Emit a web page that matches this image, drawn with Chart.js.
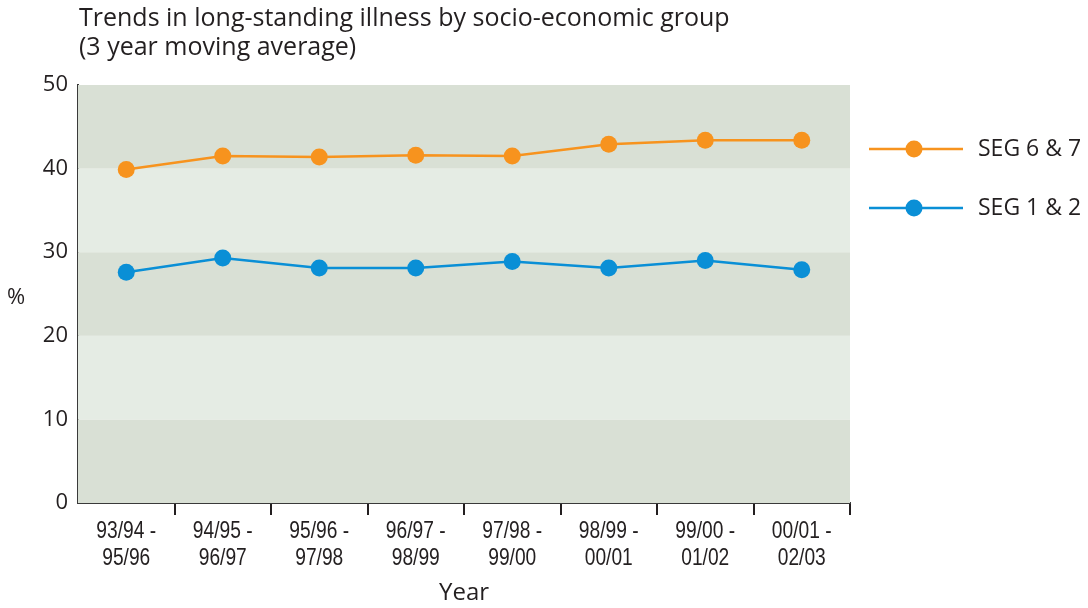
<!DOCTYPE html>
<html>
<head>
<meta charset="utf-8">
<script src="https://cdn.jsdelivr.net/npm/chart.js@4.4.1/dist/chart.umd.min.js"></script>
<style>
  html, body { margin: 0; padding: 0; background: #ffffff; }
  #wrap { position: relative; width: 1088px; height: 608px; overflow: hidden; }
  #chart { position: absolute; left: 0; top: 0; }
  .title { position: absolute; left: 79px; top: 2px; font-family: "Open Sans", "Noto Sans", sans-serif;
           font-size: 25px; line-height: 29px; color: #231f20; }
  .ylab { position: absolute; left: 7px; top: 280px; font-family: "Open Sans", "Noto Sans", sans-serif;
          font-size: 22px; color: #231f20; }
</style>
</head>
<body>
<div id="wrap">
  <canvas id="chart" width="1088" height="608"></canvas>
  <div class="title">Trends in long-standing illness by socio-economic group<br>(3 year moving average)</div>
  <div class="ylab">%</div>
</div>
<script>
// Three-year moving-average periods
const periods = [
  ['93/94 -', '95/96'], ['94/95 -', '96/97'], ['95/96 -', '97/98'], ['96/97 -', '98/99'],
  ['97/98 -', '99/00'], ['98/99 -', '00/01'], ['99/00 -', '01/02'], ['00/01 -', '02/03']
];
// Percentage reporting a long-standing illness
const seg67 = [39.9, 41.5, 41.4, 41.6, 41.5, 42.9, 43.4, 43.4];
const seg12 = [27.6, 29.3, 28.1, 28.1, 28.9, 28.1, 29.0, 27.9];
const seriesNames = ['SEG 6 & 7', 'SEG 1 & 2'];
const yTicks = [0, 10, 20, 30, 40, 50];

const ORANGE = '#f7931e';
const BLUE = '#0a8fd6';
const INK = '#231f20';
const BAND_DARK = '#d9e0d5';
const BAND_LIGHT = '#e5ece4';
const FONT = '"Open Sans", "Noto Sans", sans-serif';
const LABEL_FONT = '24px "Liberation Sans", Arial, sans-serif';

// Alternating horizontal bands between the y ticks
const bandPlugin = {
  id: 'bands',
  beforeDatasetsDraw(chart) {
    const { ctx, chartArea, scales } = chart;
    const y = scales.y;
    ctx.save();
    for (let i = 0; i < yTicks.length - 1; i++) {
      const top = y.getPixelForValue(yTicks[i + 1]);
      const bot = y.getPixelForValue(yTicks[i]);
      ctx.fillStyle = (i % 2 === 0) ? BAND_DARK : BAND_LIGHT;
      ctx.fillRect(chartArea.left, top, chartArea.right - chartArea.left, bot - top);
    }
    ctx.restore();
  }
};

// Condensed two-line period labels under each category
const periodLabels = {
  id: 'periodLabels',
  afterDraw(chart) {
    const { ctx, scales } = chart;
    const x = scales.x;
    const base = x.top + 28;
    ctx.save();
    ctx.fillStyle = INK;
    ctx.font = LABEL_FONT;
    ctx.textAlign = 'center';
    ctx.textBaseline = 'middle';
    periods.forEach((lines, i) => {
      const px = x.getPixelForValue(i);
      lines.forEach((t, j) => {
        ctx.save();
        ctx.translate(px, base + j * 27);
        ctx.scale(0.8, 1);
        ctx.fillText(t, 0, 0);
        ctx.restore();
      });
    });
    ctx.restore();
  }
};

// Legend on the right: line with a marker, then the series name
const sideLegend = {
  id: 'sideLegend',
  afterDraw(chart) {
    const { ctx } = chart;
    const rows = [
      { name: seriesNames[0], color: ORANGE, y: 149 },
      { name: seriesNames[1], color: BLUE, y: 208 }
    ];
    ctx.save();
    rows.forEach(r => {
      ctx.strokeStyle = r.color;
      ctx.lineWidth = 2.5;
      ctx.beginPath();
      ctx.moveTo(869, r.y);
      ctx.lineTo(963, r.y);
      ctx.stroke();
      ctx.fillStyle = r.color;
      ctx.beginPath();
      ctx.arc(914, r.y, 8.5, 0, Math.PI * 2);
      ctx.fill();
      ctx.fillStyle = INK;
      ctx.font = '23px ' + FONT;
      ctx.textBaseline = 'middle';
      ctx.textAlign = 'left';
      ctx.fillText(r.name, 978, r.y);
    });
    ctx.restore();
  }
};

new Chart(document.getElementById('chart'), {
  type: 'line',
  data: {
    labels: periods,
    datasets: [
      { label: seriesNames[0], data: seg67, borderColor: ORANGE, backgroundColor: ORANGE,
        borderWidth: 2.5, pointRadius: 8.5, pointHoverRadius: 8.5, pointBorderWidth: 0, tension: 0 },
      { label: seriesNames[1], data: seg12, borderColor: BLUE, backgroundColor: BLUE,
        borderWidth: 2.5, pointRadius: 8.5, pointHoverRadius: 8.5, pointBorderWidth: 0, tension: 0 }
    ]
  },
  options: {
    responsive: false,
    animation: false,
    layout: { padding: { top: 85, right: 238, bottom: 0, left: 0 } },
    plugins: { legend: { display: false }, tooltip: { enabled: false }, title: { display: false } },
    scales: {
      x: {
        offset: true,
        grid: {
          offset: true,
          drawOnChartArea: false,
          drawTicks: true,
          tickLength: 12,
          lineWidth: 2,
          color: (c) => (c.index === 0 ? 'rgba(0,0,0,0)' : INK)
        },
        border: { display: true, color: '#3a3a3a', width: 2 },
        ticks: { display: false, autoSkip: false, maxRotation: 0 },
        title: {
          display: true,
          text: 'Year',
          color: INK,
          font: { family: FONT, size: 24 },
          padding: { top: 0, bottom: 0 }
        },
        afterFit(scale) { scale.height = 105; }
      },
      y: {
        min: 0,
        max: 50,
        afterBuildTicks(scale) { scale.ticks = yTicks.map(v => ({ value: v })); },
        grid: { display: false, drawTicks: false },
        border: { display: true, color: '#3a3a3a', width: 2 },
        ticks: {
          color: INK,
          font: { family: FONT, size: 22 },
          padding: 10
        },
        afterFit(scale) { scale.width = 78; }
      }
    }
  },
  plugins: [bandPlugin, periodLabels, sideLegend]
});
</script>
</body>
</html>
